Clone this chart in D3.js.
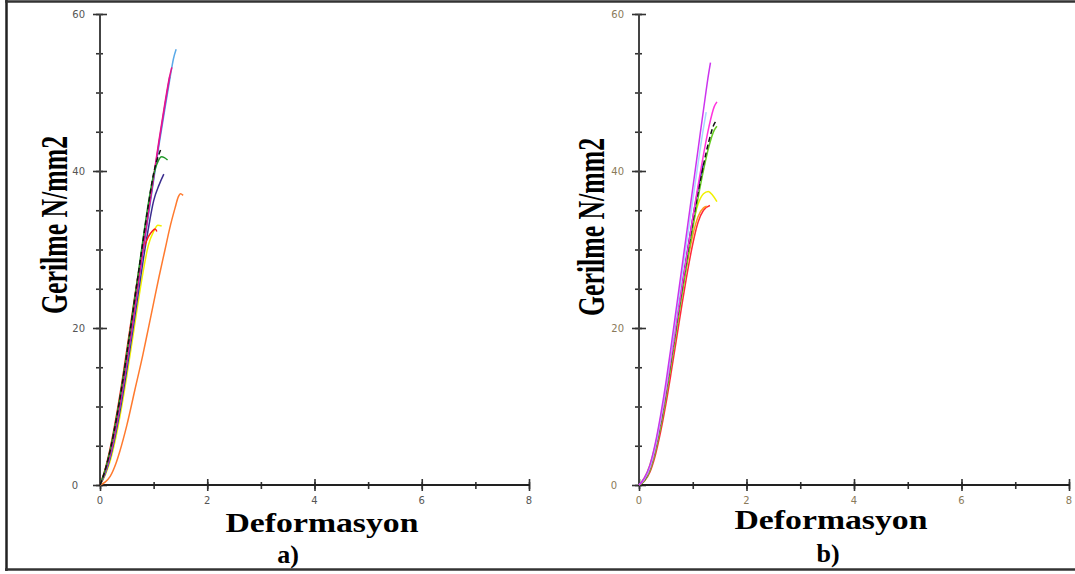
<!DOCTYPE html>
<html><head><meta charset="utf-8">
<script src="https://cdn.jsdelivr.net/npm/d3@7/dist/d3.min.js"></script>
<style>body{margin:0;background:#fff}svg{display:block}</style>
</head><body>
<svg id="c" width="1075" height="574"></svg>
<script>
// ---------- DATA ----------
const xTicks = [0,2,4,6,8];
const yTicks = [0,20,40,60];
const yLabel = "Gerilme N/mm2";
const xLabel = "Deformasyon";
const panelLabels = ["a)","b)"];

// panel a
const aLightBlue = [[0,0],[0.1,1.6],[0.2,4],[0.3,7.3],[0.4,11.2],[0.5,15.5],[0.6,20],[0.7,24.8],[0.8,29.6],[0.9,34.2],[1.0,38.8],[1.1,43.3],[1.2,47.5],[1.3,51.6],[1.37,54.3],[1.42,55.5]];
const aPurple = [[0,0],[0.1,1.7],[0.2,4.1],[0.3,7.4],[0.4,11.3],[0.5,15.7],[0.6,20.2],[0.7,25],[0.8,29.8],[0.9,34.5],[1.0,39.1],[1.1,43.6],[1.2,47.9],[1.3,52]];
const aMagenta = [[0,0],[0.1,1.8],[0.2,4.3],[0.3,7.6],[0.4,11.5],[0.5,15.9],[0.6,20.4],[0.7,25.2],[0.8,30],[0.9,34.7],[1.0,39.3],[1.1,43.9],[1.2,48.2],[1.3,52.1],[1.34,53.2]];
const aGreen = [[0,0],[0.1,2],[0.2,4.8],[0.3,8.3],[0.4,12.3],[0.5,16.8],[0.6,21.5],[0.7,26.3],[0.8,31.2],[0.9,35.8],[1.0,39.5],[1.08,41.2],[1.15,41.8],[1.2,41.7],[1.26,41.4]];
const aBlack = [[0,0],[0.1,2],[0.2,4.7],[0.3,8.2],[0.4,12.2],[0.5,16.7],[0.6,21.4],[0.7,26.2],[0.8,31],[0.9,35.6],[1.0,39.7],[1.13,42.7]];
const aNavy = [[0,0],[0.1,1.5],[0.2,3.7],[0.3,6.8],[0.4,10.5],[0.5,14.7],[0.6,19.2],[0.7,23.8],[0.8,28.4],[0.9,32.6],[1.0,36.2],[1.1,38.2],[1.19,39.6]];
const aYellow = [[0,0],[0.1,1.3],[0.2,3.3],[0.3,6.2],[0.4,9.8],[0.5,13.9],[0.6,18.3],[0.7,22.8],[0.8,27],[0.9,30.5],[1.0,32.3],[1.08,33.1],[1.15,33.0]];
const aRed = [[0,0],[0.1,2.1],[0.2,5],[0.3,8.6],[0.4,12.7],[0.5,17.2],[0.6,21.8],[0.7,26.3],[0.8,29.8],[0.9,31.6],[0.97,32.3],[1.03,32.6],[1.06,32.3]];
const aOrange = [[0,0],[0.1,0.4],[0.19,1.1],[0.3,2.8],[0.37,4.3],[0.5,7.6],[0.65,12.1],[0.8,16.6],[0.9,19.9],[1.0,23.2],[1.1,26.5],[1.21,29.9],[1.3,32.7],[1.4,35.3],[1.46,36.7],[1.5,37.1],[1.55,36.9]];

// panel b
const bViolet = [[0,0],[0.1,0.9],[0.2,2.5],[0.3,5.2],[0.4,8.8],[0.5,13],[0.6,17.8],[0.7,22.8],[0.8,27.8],[0.9,32.8],[1.0,37.8],[1.1,42.8],[1.2,47.8],[1.3,52.6],[1.33,53.8]];
const bCyan = [[0,0],[0.1,0.8],[0.2,2.3],[0.3,4.9],[0.4,8.4],[0.5,12.5],[0.6,17.1],[0.7,21.9],[0.8,26.7],[0.9,31.5],[1.0,36.3],[1.1,41],[1.2,45.5],[1.25,47.5]];
const bPink = [[0,0],[0.1,0.7],[0.2,2.1],[0.3,4.6],[0.4,8],[0.5,11.9],[0.6,16.3],[0.7,20.8],[0.8,25.3],[0.9,29.7],[1.0,34],[1.1,38.2],[1.2,42.1],[1.3,45.6],[1.4,48.2],[1.45,48.8]];
const bBlack = [[0,0],[0.1,0.7],[0.2,2.2],[0.3,4.7],[0.4,8],[0.5,11.9],[0.6,16.2],[0.7,20.7],[0.8,25.1],[0.9,29.4],[1.0,33.5],[1.1,37.3],[1.2,40.8],[1.3,43.8],[1.4,46],[1.46,46.5]];
const bGreen = [[0,0],[0.1,0.5],[0.2,1.8],[0.3,4.1],[0.4,7.3],[0.5,11.1],[0.6,15.4],[0.7,19.9],[0.8,24.3],[0.9,28.6],[1.0,32.7],[1.1,36.6],[1.2,40.1],[1.3,43.1],[1.4,45.2],[1.45,45.7]];
const bNavy = [[0,0],[0.1,0.8],[0.2,2.3],[0.3,4.8],[0.4,8.2],[0.5,12.1],[0.6,16.4],[0.7,20.9],[0.8,25.4],[0.9,29.8],[1.0,34],[1.1,37.8],[1.2,41]];
const bYellow = [[0,0],[0.1,0.9],[0.2,2.5],[0.3,5],[0.4,8.4],[0.5,12.3],[0.6,16.6],[0.7,21],[0.8,25.4],[0.9,29.6],[1.0,33.2],[1.1,35.8],[1.2,37.1],[1.29,37.4],[1.37,36.9],[1.45,36.1]];
const bOrange = [[0,0],[0.1,0.7],[0.2,2.1],[0.3,4.5],[0.4,7.8],[0.5,11.6],[0.6,15.8],[0.7,20.1],[0.8,24.4],[0.9,28.4],[1.0,31.8],[1.1,34.2],[1.2,35.3],[1.26,35.5]];
const bRed = [[0,0],[0.1,0.5],[0.2,1.6],[0.3,3.7],[0.4,6.7],[0.5,10.3],[0.6,14.4],[0.7,18.7],[0.8,23],[0.9,27.1],[1.0,30.7],[1.1,33.5],[1.2,35],[1.32,35.6]];

const seriesA = [aOrange, aYellow, aNavy, aRed, aLightBlue, aPurple, aMagenta, aGreen, aBlack];
const seriesB = [bRed, bOrange, bYellow, bGreen, bNavy, bBlack, bPink, bCyan, bViolet];

// ---------- STYLES ----------
const stylesA = [
  {c:"#ff7a2e"},{c:"#f2f200"},{c:"#3b2d8f"},{c:"#ff1a1a"},{c:"#5aaae8"},{c:"#9a35c8"},{c:"#e8148c"},{c:"#22992a"},{c:"#111",d:"5,3"}
];
const stylesB = [
  {c:"#ff2a3a"},{c:"#ff9a22"},{c:"#f0f000"},{c:"#66cc22"},{c:"#22228a"},{c:"#111",d:"5,3"},{c:"#ff33dd"},{c:"#a8d8ff"},{c:"#cc33ee"}
];

const svg = d3.select("#c");

// frame
svg.append("line").attr("x1",6.5).attr("x2",6.5).attr("y1",0).attr("y2",571).attr("stroke","#222").attr("stroke-width",2.5);
svg.append("line").attr("x1",5).attr("x2",1075).attr("y1",1.5).attr("y2",1.5).attr("stroke","#333").attr("stroke-width",2.5);
svg.append("line").attr("x1",5).attr("x2",1075).attr("y1",569.5).attr("y2",569.5).attr("stroke","#333").attr("stroke-width",2.5);

function panel(cfg){
  const x = d3.scaleLinear().domain([0,8]).range([cfg.x0, cfg.x1]);
  const y = d3.scaleLinear().domain([0,60]).range([485,14]);
  const g = svg.append("g");
  const minorX = d3.range(0,9,1), minorY = d3.range(0,61,5);

  const ax = (a)=>a.tickFormat("").tickSizeOuter(0);
  g.append("g").attr("transform",`translate(0,485)`).call(ax(d3.axisBottom(x).tickValues(minorX).tickSize(4)));
  g.append("g").attr("transform",`translate(0,485)`).call(ax(d3.axisTop(x).tickValues(minorX).tickSize(3)));
  g.append("g").attr("transform",`translate(${cfg.x0},0)`).call(ax(d3.axisLeft(y).tickValues(minorY).tickSize(4)));
  g.append("g").attr("transform",`translate(${cfg.x0},0)`).call(ax(d3.axisRight(y).tickValues(minorY).tickSize(3)));
  g.append("g").attr("transform",`translate(0,485)`).call(ax(d3.axisBottom(x).tickValues(xTicks).tickSize(6)));
  g.append("g").attr("transform",`translate(0,485)`).call(ax(d3.axisTop(x).tickValues(xTicks).tickSize(6)));
  g.append("g").attr("transform",`translate(${cfg.x0},0)`).call(ax(d3.axisLeft(y).tickValues(yTicks).tickSize(7)));
  g.append("g").attr("transform",`translate(${cfg.x0},0)`).call(ax(d3.axisRight(y).tickValues(yTicks).tickSize(7)));
  g.selectAll(".domain").remove();
  g.selectAll("line").attr("stroke","#333").attr("stroke-width",1.6);
  g.append("line").attr("x1",x(0)-1).attr("x2",x(8)+1).attr("y1",485).attr("y2",485).attr("stroke","#222").attr("stroke-width",2);
  g.append("line").attr("x1",cfg.x0).attr("x2",cfg.x0).attr("y1",y(60)).attr("y2",485).attr("stroke","#444").attr("stroke-width",2);

  g.selectAll(".xl").data(xTicks).join("text")
    .attr("x",d=>x(d)).attr("y",504).attr("text-anchor","middle")
    .attr("font-family","DejaVu Sans").attr("font-size",10).attr("fill",cfg.tc).text(d=>d);
  g.selectAll(".yl").data(yTicks).join("text")
    .attr("x",d=>cfg.x0-(d===0?22:15)).attr("y",d=>y(d)+3.5).attr("text-anchor","end")
    .attr("font-family","DejaVu Sans").attr("font-size",10).attr("fill",cfg.tc).text(d=>d);

  const line = d3.line().x(d=>x(d[0])).y(d=>y(d[1])).curve(d3.curveMonotoneX);
  cfg.series.forEach((s,i)=>{
    const st = cfg.styles[i];
    g.append("path").attr("d",line(s)).attr("fill","none").attr("stroke",st.c)
     .attr("stroke-width",1.5).attr("stroke-dasharray",st.d||null);
  });

  g.append("text").attr("transform",`translate(${cfg.ylx},${cfg.yly}) rotate(-90)`)
    .attr("text-anchor","middle").attr("font-family","Liberation Serif").attr("font-weight","bold")
    .attr("font-size",38).attr("textLength",178).attr("lengthAdjust","spacingAndGlyphs").text(yLabel);
  g.append("text").attr("x",cfg.xlx).attr("y",cfg.xly).attr("text-anchor","middle")
    .attr("font-family","Liberation Serif").attr("font-weight","bold")
    .attr("font-size",28).attr("textLength",193).attr("lengthAdjust","spacingAndGlyphs").text(xLabel);
  g.append("text").attr("x",cfg.plx).attr("y",cfg.ply).attr("text-anchor","middle")
    .attr("font-family","Liberation Serif").attr("font-weight","bold")
    .attr("font-size",26).text(cfg.pl);
}

panel({x0:100,x1:529,series:seriesA,styles:stylesA,tc:"#555",ylx:67,yly:225,xlx:322,xly:532,plx:288,ply:563,pl:panelLabels[0]});
panel({x0:639,x1:1069,series:seriesB,styles:stylesB,tc:"#8a7a5a",ylx:604,yly:227,xlx:831,xly:529,plx:828,ply:562,pl:panelLabels[1]});
</script>
</body></html>
